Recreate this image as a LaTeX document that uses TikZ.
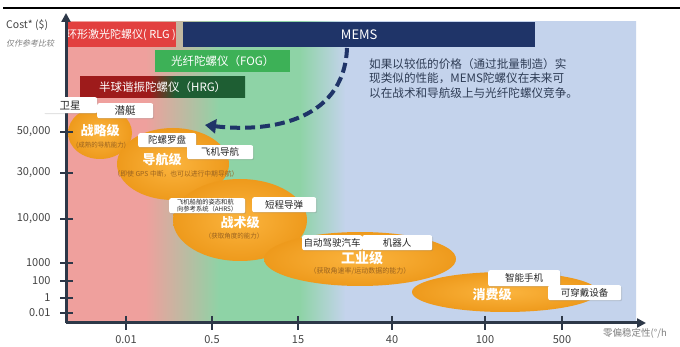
\documentclass[tikz,border=0pt]{standalone}
\usepackage{fontspec}
\setmainfont{Noto Sans CJK SC}
\newfontfamily\cjkslant[FakeSlant=0.2]{Noto Sans CJK SC}
\usetikzlibrary{shadows,arrows.meta,shapes.geometric}
\definecolor{pinkbg}{HTML}{EFA09D}
\definecolor{greenbg}{HTML}{8ED3A6}
\definecolor{bluebg}{HTML}{C4D3EC}
\definecolor{rlgred}{HTML}{E2403F}
\definecolor{memsblue}{HTML}{1F3468}
\definecolor{foggreen}{HTML}{3DB157}
\definecolor{hrgred}{HTML}{9E1B1B}
\definecolor{hrggreen}{HTML}{1E5E33}
\definecolor{axiscol}{HTML}{2D3848}
\definecolor{ticktext}{HTML}{444444}
\definecolor{orin}{HTML}{FBB43E}
\definecolor{orout}{HTML}{EE9A1C}
\definecolor{subtxt}{HTML}{9A6320}
\definecolor{paratxt}{HTML}{2E3C55}
\pgfdeclarehorizontalshading{bgshade}{100bp}{color(0bp)=(pinkbg); color(32bp)=(pinkbg); color(38.5bp)=(greenbg); color(45.5bp)=(greenbg); color(49.5bp)=(bluebg); color(100bp)=(bluebg)}
\pgfdeclarehorizontalshading{hrgshade}{100bp}{color(0bp)=(hrgred); color(46bp)=(hrgred); color(54bp)=(hrggreen); color(100bp)=(hrggreen)}
\begin{document}
\begin{tikzpicture}[x=1pt,y=-1pt,
  bar/.style={anchor=north west, inner sep=0pt, text=white},
  ell/.style={ellipse, inner sep=0pt, shading=radial, inner color=orin, outer color=orout},
  lbl/.style={anchor=north west, fill=white, rounded corners=2pt, inner sep=0pt,
    drop shadow={opacity=0.25,shadow xshift=1pt,shadow yshift=-1pt},
    font=\fontsize{9.5}{11}\selectfont, text=black!85},
  ttl/.style={text=white, font=\bfseries\fontsize{13}{15}\selectfont},
  sub/.style={text=subtxt, font=\fontsize{6.5}{8}\selectfont},
  ytl/.style={anchor=east, text=ticktext, font=\fontsize{11}{13}\selectfont},
  xtl/.style={anchor=north, text=ticktext, font=\fontsize{11}{13}\selectfont},
  tick/.style={axiscol, line width=2.5pt}]
\useasboundingbox (0,0) rectangle (680,347);
\fill[white] (0,0) rectangle (680,347);
% top rule
\draw[black, line width=2pt] (3,8) -- (680,8);
% background
\shade[shading=bgshade] (66,22) rectangle (636,323);
% bars
\node[bar, fill=rlgred, minimum width=109pt, minimum height=25pt, font=\fontsize{11}{13}\selectfont] (rlg) at (66,22) {环形激光陀螺仪( RLG )};
\node[bar, fill=memsblue, minimum width=352pt, minimum height=25pt, font=\fontsize{13}{15}\selectfont] (mems) at (183,22) {MEMS};
\node[bar, fill=foggreen, minimum width=135pt, minimum height=22pt, font=\fontsize{11.5}{13}\selectfont] (fog) at (155,50) {光纤陀螺仪（FOG）};
\node[bar, shading=hrgshade, minimum width=165pt, minimum height=21pt, font=\fontsize{11.5}{13}\selectfont] (hrg) at (80,76) {半球谐振陀螺仪（HRG）};
% paragraph
\node[anchor=north west, text=paratxt, align=left, inner sep=0pt, font=\fontsize{11.6}{14.5}\selectfont] (para) at (369,58)
  {如果以较低的价格（通过批量制造）实\\现类似的性能，MEMS陀螺仪在未来可\\以在战术和导航级上与光纤陀螺仪竞争。};
% dashed arrow
\coordinate (dstart) at (347,48);
\coordinate (dend) at (205,125);
\draw[memsblue, line width=4pt, dash pattern=on 10pt off 5pt, -{Triangle[length=11pt,width=14pt]}]
  (dstart) .. controls (344,125) and (262,132) .. (dend);
% ellipses
\node[ell, minimum width=64pt, minimum height=52pt] (strat) at (100,133) {};
\node[ell, minimum width=112pt, minimum height=72pt] (nav) at (173,164) {};
\node[ell, minimum width=134pt, minimum height=82pt] (tac) at (240,220) {};
\node[ell, minimum width=192pt, minimum height=54pt] (ind) at (360,259) {};
\node[ell, minimum width=186pt, minimum height=40pt] (cons) at (505,292) {};
% ellipse texts
\node[ttl] (stratt) at (100,131) {战略级};
\node[sub] (strats) at (101,145) {(成熟的导航能力)};
\node[ttl] (navt) at (162,160) {导航级};
\node[sub, font=\fontsize{6.8}{8}\selectfont] (navs) at (176,174) {（即使 GPS 中断，也可以进行中期导航）};
\node[ttl] (tact) at (240,223) {战术级};
\node[sub] (tacs) at (234,236) {（获取角度的能力）};
\node[ttl, font=\bfseries\fontsize{14}{16}\selectfont] (indt) at (362,258) {工业级};
\node[sub, font=\fontsize{7}{8}\selectfont] (inds) at (360,271) {（获取角速率/运动数据的能力）};
\node[ttl] (const) at (492,295) {消费级};
% axes
\coordinate (orig) at (66,323);
\coordinate (ytop) at (66,13);
\coordinate (xend) at (646,323);
\draw[axiscol, line width=3pt, -{Triangle[length=9pt,width=9pt]}] (orig) -- (ytop);
\draw[axiscol, line width=3pt, -{Triangle[length=9pt,width=9pt]}] (orig) -- (xend);
% y ticks
\foreach \yy/\lab in {132/{50,000},173/{30,000},219/{10,000},263/1000,281/100,298/1,313/0.01}{
  \draw[tick] (60,\yy) -- (73,\yy);
  \node[ytl] at (54,\yy) {\lab};
}
% x ticks
\foreach \xx/\lab in {126/0.01,212/0.5,298/15,392/40,485/100,562/500}{
  \draw[tick] (\xx,316) -- (\xx,330);
  \node[xtl] at (\xx,332) {\lab};
}
% label boxes
\node[lbl, minimum width=54pt, minimum height=16pt, font=\fontsize{10.5}{12}\selectfont] (sat) at (43,97) {卫星};
\node[lbl, minimum width=56pt, minimum height=15pt, font=\fontsize{10.5}{12}\selectfont] (sub1) at (97,103) {潜艇};
\node[lbl, minimum width=58pt, minimum height=14pt] (gyc) at (138,133) {陀螺罗盘};
\node[lbl, minimum width=66pt, minimum height=14pt] (airnav) at (187,145) {飞机导航};
\node[lbl, minimum width=76pt, minimum height=15pt, align=left, font=\fontsize{6.3}{7.3}\selectfont] (ahrs) at (169,198) {飞机船舶的姿态和航\\向参考系统（AHRS）};
\node[lbl, minimum width=64pt, minimum height=15pt] (srm) at (252,197) {短程导弹};
\node[lbl, minimum width=60pt, minimum height=15pt] (car) at (302,235) {自动驾驶汽车};
\node[lbl, minimum width=70pt, minimum height=15pt] (robot) at (362,235) {机器人};
\node[lbl, minimum width=72pt, minimum height=16pt] (phone) at (488,270) {智能手机};
\node[lbl, minimum width=73pt, minimum height=15pt] (wear) at (548,285) {可穿戴设备};
% axis labels
\node[anchor=west, text=ticktext, font=\fontsize{10.5}{12}\selectfont, inner sep=0pt] (ylab) at (6,25) {Cost* (\$)};
\node[anchor=west, text=gray, font=\cjkslant\fontsize{8}{10}\selectfont, inner sep=0pt] (ylab2) at (6,43) {仅作参考比较};
\node[anchor=west, text=gray, font=\fontsize{9.5}{11}\selectfont, inner sep=0pt] (xlab) at (603,333) {零偏稳定性(°/h};
\end{tikzpicture}
\end{document}
